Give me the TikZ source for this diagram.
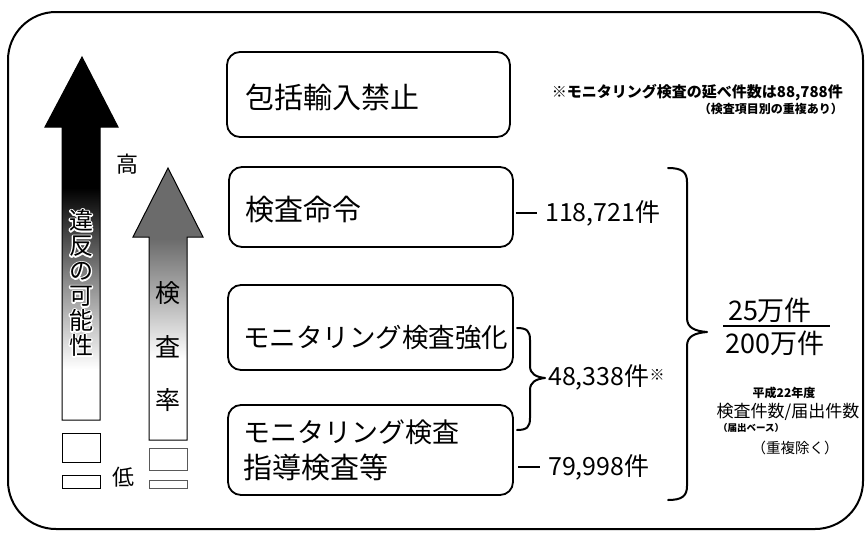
\documentclass[tikz,border=0pt]{standalone}
\usepackage{fontspec}
\setmainfont{Noto Sans CJK JP}
\newcommand{\fs}[1]{\fontsize{#1}{#1}\selectfont}
\newcommand{\fsb}[2]{\fontsize{#1}{#2}\selectfont}
\newcommand{\outl}[1]{\special{pdf:literal direct 1 Tr 2.8 w 1 j 1 1 1 RG}#1\special{pdf:literal direct 0 Tr 0 0 0 RG 0.4 w 0 j}}
\pgfdeclareverticalshading{blackarrow}{100bp}{color(0bp)=(white); color(32bp)=(white); color(44bp)=(black!45); color(57bp)=(black); color(100bp)=(black)}
\pgfdeclareverticalshading{grayarrow}{100bp}{color(0bp)=(white); color(40bp)=(white); color(51bp)=(black!30); color(62bp)=(black!58); color(100bp)=(black!58)}
\tikzset{
  frame/.style={draw=black, line width=2pt, rounded corners=48pt},
  stagebox/.style={draw=black, line width=1.8pt, rounded corners=13pt, inner sep=0pt},
  boxtext/.style={anchor=west, inner sep=0pt, font=\fs{29}},
  count/.style={anchor=west, inner sep=0pt, font=\fs{25}},
  brace/.style={draw=black, line width=2pt, line cap=round, line join=round},
  tick/.style={draw=black, line width=2pt},
  smallbox/.style={draw=black, line width=1pt, inner sep=0pt},
  graybox/.style={draw=black!65, line width=1pt, inner sep=0pt},
  vtext/.style={align=center, inner sep=0pt, font=\fsb{24}{25}},
}
\begin{document}
\begin{tikzpicture}[x=1pt,y=-1pt]
\useasboundingbox (0,0) rectangle (866,533);
% outer frame
\draw[frame] (8,12) rectangle (863,529);

% black arrow
\path[shading=blackarrow, draw=black, line width=1pt]
  (82,57) -- (118,127) -- (100,127) -- (100,420) -- (62,420) -- (62,127) -- (45,127) -- cycle;
\node[vtext] (vtw) at (81,283) {\outl{違}\\\outl{反}\\\outl{の}\\\outl{可}\\\outl{能}\\\outl{性}};
\node[vtext] (vt) at (81,283) {違\\反\\の\\可\\能\\性};
\node[smallbox, minimum width=38pt, minimum height=29pt] (sb1) at (81,447.5) {};
\node[smallbox, minimum width=38pt, minimum height=13pt] (sb2) at (81,481.5) {};

% gray arrow
\path[shading=grayarrow, draw=black, line width=1pt]
  (168,168) -- (203,237) -- (187,237) -- (187,440) -- (149,440) -- (149,237) -- (133,237) -- cycle;
\node[align=center, inner sep=0pt, font=\fsb{25}{53.5}] (rt) at (168,347)
  {検\\査\\率};
\node[graybox, minimum width=38pt, minimum height=22pt] (gb1) at (168,459) {};
\node[graybox, minimum width=38pt, minimum height=8pt] (gb2) at (168,484) {};

\node[inner sep=0pt, font=\fs{22}] (hi) at (127,164) {高};
\node[inner sep=0pt, font=\fs{22}] (lo) at (123,477) {低};

% stage boxes
\node[stagebox, minimum width=283pt, minimum height=85pt] (b1) at (368.5,94.5) {};
\node[stagebox, minimum width=284pt, minimum height=80pt] (b2) at (371,207) {};
\node[stagebox, minimum width=285pt, minimum height=85pt] (b3) at (370.5,327.5) {};
\node[stagebox, minimum width=285pt, minimum height=90pt] (b4) at (370.5,450) {};

\node[boxtext] (t1) at (245,97) {包括輸入禁止};
\node[boxtext] (t2) at (245,210) {検査命令};
\node[boxtext, font=\fs{26.5}] (t3) at (243,338) {モニタリング検査強化};
\node[boxtext, font=\fs{27}] (t4a) at (243,432) {モニタリング検査};
\node[boxtext, font=\fs{29}] (t4b) at (243,467) {指導検査等};

% counts
\node[count] (c1) at (545,213) {118,721件};
\node[count] (c2) at (548,377) {48,338件\raisebox{5pt}{\fs{15}※}};
\node[count] (c3) at (548,467) {79,998件};
\draw[tick] ([xshift=2pt]b2.east |- c1.west) -- ([xshift=-8pt]c1.west);
\draw[tick] ([xshift=4pt]b4.east |- c3.west) -- ([xshift=-8pt]c3.west);

% small brace
\draw[brace] (517,328) .. controls (527,328) and (530,331) .. (530,340)
  -- (530,366) .. controls (530,374) and (536,377) .. (545,378)
  .. controls (536,379) and (530,382) .. (530,390)
  -- (530,418) .. controls (530,427) and (527,430) .. (517,430);

% big brace
\draw[brace] (668,168) .. controls (682,168) and (687,172) .. (687,182)
  -- (687,318) .. controls (687,328) and (695,331) .. (707,332)
  .. controls (695,333) and (687,336) .. (687,346)
  -- (687,486) .. controls (687,496) and (682,500) .. (668,500);

% fraction
\node[inner sep=0pt, font=\fs{27}] (fn) at (770,310) {25万件};
\node[inner sep=0pt, font=\fs{27}] (fd) at (775,343) {200万件};
\draw[line width=1.8pt] (723,326) -- (830,326);

% notes
\node[anchor=east, inner sep=0pt, font=\fs{15}\bfseries] (n1) at (843,93) {※モニタリング検査の延べ件数は88,788件};
\node[anchor=east, inner sep=0pt, font=\fs{12}\bfseries] (n2) at (843,109) {（検査項目別の重複あり）};

\node[inner sep=0pt, font=\fs{12}\bfseries] (r1) at (784,393) {平成22年度};
\node[inner sep=0pt, font=\fs{17}] (r2) at (788,412) {検査件数/届出件数};
\node[anchor=west, inner sep=0pt, font=\fs{9.5}\bfseries] (r3) at (718,428) {（届出ベース）};
\node[inner sep=0pt, font=\fs{14.5}] (r4) at (795,448) {（重複除く）};
\end{tikzpicture}
\end{document}
